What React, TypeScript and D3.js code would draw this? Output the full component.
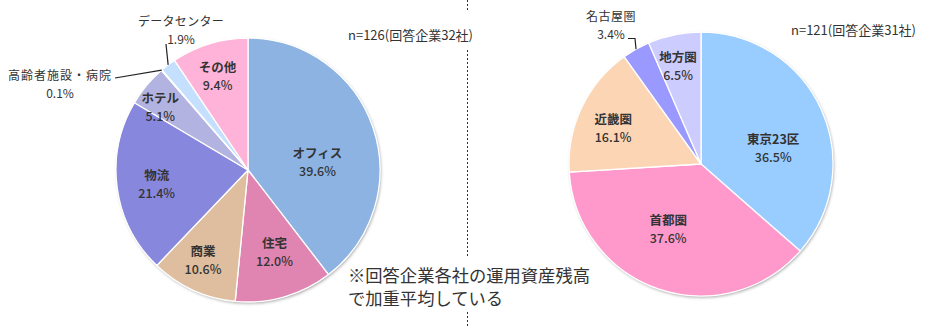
import React from "react";
import * as d3 from "d3";

// ---------- data ----------
const useCategories = ["オフィス", "住宅", "商業", "物流", "ホテル", "高齢者施設・病院", "データセンター", "その他"];
const useValues = [39.6, 12.0, 10.6, 21.4, 5.1, 0.1, 1.9, 9.4];
const useColors = ["#8DB3E2", "#E085B2", "#DFBD9F", "#8787DE", "#B3B3E1", "#E4E4F7", "#C5DFFF", "#FFB3D9"];
const useNote = "n=126(回答企業32社)";

const areaCategories = ["東京23区", "首都圏", "近畿圏", "名古屋圏", "地方圏"];
const areaValues = [36.5, 37.6, 16.1, 3.4, 6.5];
const areaColors = ["#99CCFF", "#FF99CC", "#FCD5B4", "#9999FF", "#CCCCFF"];
const areaNote = "n=121(回答企業31社)";

const footnote = ["※回答企業各社の運用資産残高", "で加重平均している"];

// label placement (fraction of radius, angular shift in degrees); null => outside label
const useLabelPlace: ([number, number] | null)[] = [[0.53, 12], [0.65, -2], [0.76, 2], [0.7, -1], [0.82, -4], null, null, [0.75, -1]];
const areaLabelPlace: ([number, number] | null)[] = [[0.56, 12], [0.55, 8], [0.72, -3], null, [0.76, -1.5]];

const W = 940, H = 328, R = 132;
const FONT = "'Noto Sans CJK JP', 'Noto Sans', sans-serif";
const TXT = "#333333";

function polar(cx: number, cy: number, r: number, ang: number): [number, number] {
  return [cx + r * Math.sin(ang), cy - r * Math.cos(ang)];
}

type Outer = { idx: number; lines: string[]; anchor: [number, number]; spacing: number; path: (edge: [number, number]) => string };

function Pie({ cx, cy, cats, vals, colors, place, outers }: {
  cx: number; cy: number; cats: string[]; vals: number[]; colors: string[];
  place: ([number, number] | null)[]; outers: Outer[];
}) {
  const pie = d3.pie<number>().sort(null).value((d) => d).startAngle(0).endAngle(2 * Math.PI);
  const arcs = pie(vals);
  const arc = d3.arc<d3.PieArcDatum<number>>().innerRadius(0).outerRadius(R);
  return (
    <g>
      <g filter="url(#shadow)">
        <circle cx={cx} cy={cy} r={R} fill="#fff" />
      </g>
      <g transform={`translate(${cx},${cy})`}>
        {arcs.map((a, i) => (
          <path key={i} d={arc(a) || ""} fill={colors[i]} stroke="#fff" strokeWidth={1.3} strokeLinejoin="round" />
        ))}
      </g>
      {arcs.map((a, i) => {
        const p = place[i];
        if (!p) return null;
        const mid = (a.startAngle + a.endAngle) / 2 + (p[1] * Math.PI) / 180;
        const [x, y] = polar(cx, cy, p[0] * R, mid);
        return (
          <g key={"l" + i} fontFamily={FONT} fontSize={12.5} fill={TXT} textAnchor="middle">
            <text x={x} y={y - 4} fontWeight={700}>{cats[i]}</text>
            <text x={x} y={y + 14} fontWeight={500}>{vals[i].toFixed(1)}%</text>
          </g>
        );
      })}
      {outers.map((o) => {
        const a = arcs[o.idx];
        const mid = (a.startAngle + a.endAngle) / 2;
        const edge = polar(cx, cy, R, mid);
        return (
          <g key={"o" + o.idx}>
            <path d={o.path(edge)} fill="none" stroke="#222" strokeWidth={1.2} />
            <g fontFamily={FONT} fontSize={12} fill={TXT} textAnchor="middle">
              <text x={o.anchor[0]} y={o.anchor[1]} letterSpacing={o.spacing}>{o.lines[0]}</text>
              <text x={o.anchor[0]} y={o.anchor[1] + 17.6}>{vals[o.idx].toFixed(1)}%</text>
            </g>
          </g>
        );
      })}
    </g>
  );
}

export default function App() {
  const leftOuters: Outer[] = [
    { idx: 5, lines: [useCategories[5]], anchor: [60, 80], spacing: 1, path: (e) => `M115,78L${e[0]},${e[1]}` },
    { idx: 6, lines: [useCategories[6]], anchor: [181, 26], spacing: 0.3, path: (e) => `M166,44L${e[0]},${e[1]}` },
  ];
  const rightOuters: Outer[] = [
    { idx: 3, lines: [areaCategories[3]], anchor: [611, 21], spacing: 0.5, path: (e) => `M628,38.5L635,38.5L${e[0]},${e[1]}` },
  ];
  return (
    <svg width={W} height={H} style={{ position: "absolute", left: 0, top: 0, background: "#fff" }}>
      <defs>
        <filter id="shadow" x="-20%" y="-20%" width="140%" height="140%">
          <feDropShadow dx={1} dy={1.5} stdDeviation={1.6} floodColor="#000" floodOpacity={0.35} />
        </filter>
      </defs>
      <rect width={W} height={H} fill="#fff" />
      <Pie cx={248} cy={170} cats={useCategories} vals={useValues} colors={useColors} place={useLabelPlace} outers={leftOuters} />
      <Pie cx={701} cy={164} cats={areaCategories} vals={areaValues} colors={areaColors} place={areaLabelPlace} outers={rightOuters} />
      <g stroke="#333" strokeWidth={1} strokeDasharray="2,2">
        <line x1={467.5} x2={467.5} y1={0} y2={11} />
        <line x1={467.5} x2={467.5} y1={50} y2={256} />
        <line x1={467.5} x2={467.5} y1={312} y2={328} />
      </g>
      <g fontFamily={FONT} fontSize={13} fill={TXT}>
        <text x={348} y={40}>{useNote}</text>
        <text x={791} y={35}>{areaNote}</text>
      </g>
      <g fontFamily={FONT} fontSize={17.3} fill={TXT}>
        <text x={348} y={282}>{footnote[0]}</text>
        <text x={348} y={305}>{footnote[1]}</text>
      </g>
    </svg>
  );
}
